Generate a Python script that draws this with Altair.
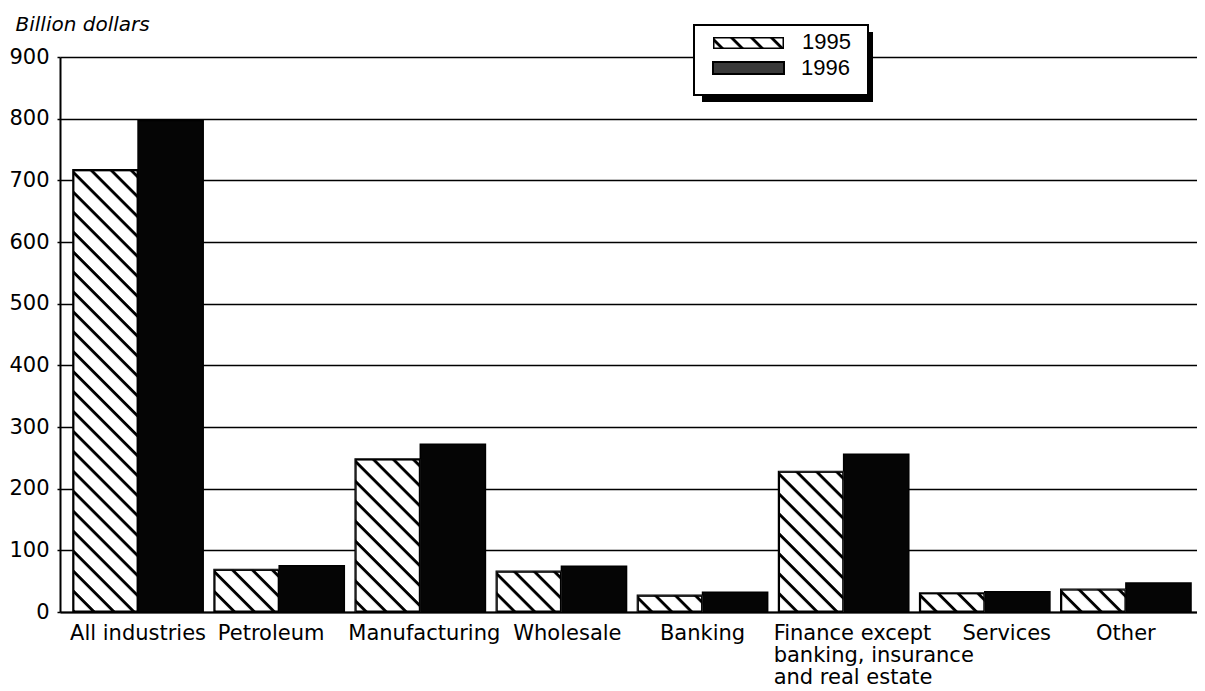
import base64
import altair as alt
import pandas as pd

categories = ["All industries", "Petroleum", "Manufacturing", "Wholesale", "Banking",
              "Finance except banking, insurance and real estate", "Services", "Other"]
values_1995 = [717, 69, 248, 66, 27, 228, 31, 37]
values_1996 = [797, 75, 272, 74, 32, 256, 33, 47]
years = ["1995", "1996"]
y_ticks = [0, 100, 200, 300, 400, 500, 600, 700, 800, 900]
y_title = "Billion dollars"

rows = []
for c, a, b in zip(categories, values_1995, values_1996):
    rows.append({"category": c, "year": years[0], "value": a})
    rows.append({"category": c, "year": years[1], "value": b})
df = pd.DataFrame(rows)

HATCH_SVG = (
    "<svg xmlns='http://www.w3.org/2000/svg' width='100%' height='100%'>"
    "<defs><pattern id='h' width='14.1' height='14.1' patternUnits='userSpaceOnUse' "
    "patternTransform='rotate(45)'><rect x='0' y='0' width='14.1' height='2.9' fill='#000'/></pattern></defs>"
    "<rect width='100%' height='100%' fill='#fff'/>"
    "<rect width='100%' height='100%' fill='url(#h)'/>"
    "<rect width='100%' height='100%' fill='none' stroke='#000' stroke-width='3'/>"
    "</svg>"
)
HATCH_URL = "data:image/svg+xml;base64," + base64.b64encode(HATCH_SVG.encode()).decode()

FONT = "DejaVu Sans"
LEG_FONT = "Liberation Sans"
FIN = categories[5]

label_expr = (
    f"datum.value == '{FIN}' ? ['Finance except', 'banking, insurance', 'and real estate'] : datum.label"
)


def is_cat(name):
    return f"datum.value == '{name}'"


x_enc = alt.X(
    "category:N",
    sort=categories,
    scale=alt.Scale(paddingInner=0.077, paddingOuter=0.067, align=0.684),
    axis=alt.Axis(
        title=None, labelAngle=0, ticks=False, labelPadding=10,
        labelFont=FONT, labelFontSize=21, labelColor="black", labelLineHeight=22,
        labelLimit=400, labelOverlap=False,
        domainColor="black", domainWidth=2, grid=False,
        labelExpr=label_expr,
        labelAlign={"condition": {"test": is_cat(FIN), "value": "left"}, "value": "center"},
        labelOffset={
            "condition": [
                {"test": is_cat(FIN), "value": -70},
                {"test": is_cat("Services"), "value": 22},
                {"test": is_cat("Petroleum"), "value": -8},
                {"test": is_cat("Manufacturing"), "value": 4},
                {"test": is_cat("Wholesale"), "value": 6},
            ],
            "value": 0,
        },
    ),
)
xoff_enc = alt.XOffset("year:N", sort=years, scale=alt.Scale(paddingInner=0, paddingOuter=0))
y_enc = alt.Y(
    "value:Q",
    scale=alt.Scale(domain=[0, 900], nice=False),
    axis=alt.Axis(
        values=y_ticks, title=y_title, titleAngle=0, titleAlign="left", titleBaseline="alphabetic",
        titleX=-45, titleY=-27, titleFont=FONT, titleFontSize=20, titleFontStyle="italic",
        titleFontWeight="normal", titleColor="black",
        labelFont=FONT, labelFontSize=21, labelColor="black", labelPadding=8, labelFlush=False,
        tickSize=3, tickColor="black", tickWidth=1.5,
        domainColor="black", domainWidth=2,
        gridColor="black", gridWidth=1.5, gridOpacity=1,
    ),
)

bars = alt.Chart(df).mark_bar(stroke="black", strokeWidth=1.5).encode(
    x=x_enc, xOffset=xoff_enc, y=y_enc,
    color=alt.Color("year:N", scale=alt.Scale(domain=years, range=["white", "#050505"]), legend=None),
)

hatch = alt.Chart(df).transform_filter(alt.datum.year == years[0]).mark_image(aspect=False).encode(
    x=x_enc, xOffset=xoff_enc, y=y_enc, url=alt.value(HATCH_URL),
)

one = alt.Data(values=[{"k": 1}])
shadow = alt.Chart(one).mark_rect(fill="black").encode(
    x=alt.value(642), x2=alt.value(813), y=alt.value(-25), y2=alt.value(45))
box = alt.Chart(one).mark_rect(fill="white", stroke="black", strokeWidth=2).encode(
    x=alt.value(634), x2=alt.value(808), y=alt.value(-32), y2=alt.value(38))
sw95 = alt.Chart(one).mark_image(aspect=False, width=71, height=12, align="left", baseline="top").encode(
    x=alt.value(653), y=alt.value(-20), url=alt.value(HATCH_URL))
sw96 = alt.Chart(one).mark_rect(fill="#3a3a3a", stroke="black", strokeWidth=2).encode(
    x=alt.value(653), x2=alt.value(724), y=alt.value(5), y2=alt.value(17))
t95 = alt.Chart(alt.Data(values=[{"year": years[0]}])).mark_text(
    font=LEG_FONT, fontSize=22, align="left", baseline="alphabetic", color="black").encode(
    x=alt.value(742), y=alt.value(-8), text="year:N")
t96 = alt.Chart(alt.Data(values=[{"year": years[1]}])).mark_text(
    font=LEG_FONT, fontSize=22, align="left", baseline="alphabetic", color="black").encode(
    x=alt.value(741), y=alt.value(18), text="year:N")

chart = alt.layer(bars, hatch, shadow, box, sw95, sw96, t95, t96).properties(
    width=1137, height=555,
    autosize=alt.AutoSizeParams(type="none"),
    padding={"left": 52, "top": 49, "right": 0, "bottom": 76},
    background="white",
).configure_view(stroke="transparent")

chart.save("out.html", embed_options={"renderer": "svg", "actions": False})
